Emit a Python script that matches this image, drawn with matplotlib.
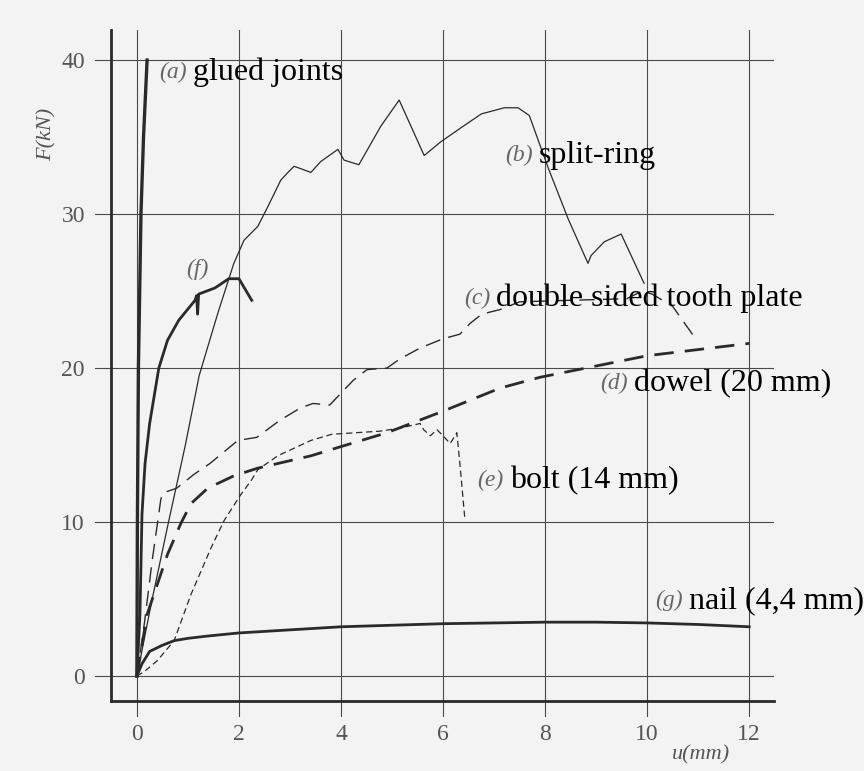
import matplotlib.pyplot as plt

# (a) glued joints
u_a = [0, 0.01, 0.03, 0.08, 0.13, 0.2]
F_a = [0, 10, 20, 30, 35, 40]

# (b) split-ring
u_b = [0, 0.3, 0.62, 0.95, 1.22, 1.4, 1.59, 1.9, 2.1, 2.37, 2.57, 2.82, 2.96, 3.08,
       3.25, 3.41, 3.6, 3.94, 4.06, 4.35, 4.78, 5.14, 5.63, 5.96, 6.35, 6.75, 7.2,
       7.47, 7.69, 8.06, 8.45, 8.84, 8.9, 9.16, 9.49, 9.94]
F_b = [0, 5, 10, 15, 19.5, 21.5, 23.6, 26.8, 28.3, 29.2, 30.5, 32.2, 32.7, 33.1,
       32.9, 32.7, 33.4, 34.2, 33.5, 33.2, 35.7, 37.4, 33.8, 34.7, 35.6, 36.5, 36.9,
       36.9, 36.4, 33.0, 29.7, 26.8, 27.3, 28.2, 28.7, 25.5]

# (c) double sided tooth plate
u_c = [0, 0.15, 0.3, 0.47, 0.52, 0.78, 1.12, 1.43, 1.98, 2.35, 2.8, 3.2, 3.45, 3.78,
       3.98, 4.24, 4.51, 4.9, 5.16, 5.55, 6.0, 6.33, 6.53, 6.76, 7.12, 7.5, 8.5, 9.6,
       9.9, 10.1, 10.5, 10.95]
F_c = [0, 3.5, 7.5, 11.5, 11.9, 12.2, 13.1, 13.8, 15.3, 15.5, 16.6, 17.4, 17.7, 17.6,
       18.3, 19.2, 19.9, 20.0, 20.6, 21.3, 21.9, 22.2, 22.9, 23.5, 23.8, 24.3, 24.4, 24.5,
       25.0, 24.8, 24.0, 21.9]

# (d) dowel (20 mm)
u_d = [0, 0.2, 0.6, 0.86, 1.06, 1.39, 1.9, 2.37, 3.41, 4.0, 4.9, 6.0, 7.12, 7.9, 10.0, 12.0]
F_d = [0, 4.0, 7.9, 9.9, 11.2, 12.2, 13.0, 13.5, 14.3, 14.9, 15.8, 17.2, 18.7, 19.4, 20.8, 21.6]

# (e) bolt (14 mm)
u_e = [0, 0.15, 0.4, 0.73, 1.06, 1.45, 1.71, 2.04, 2.24, 2.37, 2.76, 3.41, 3.82, 4.76,
       5.16, 5.55, 5.62, 5.75, 5.88, 6.0, 6.14, 6.27, 6.33, 6.43]
F_e = [0, 0.3, 1.0, 2.3, 5.3, 8.3, 10.1, 11.8, 12.7, 13.4, 14.3, 15.3, 15.7, 15.9,
       16.1, 16.4, 16.0, 15.6, 16.0, 15.6, 15.1, 15.8, 13.8, 10.1]

# (f)
u_f = [0, 0.03, 0.06, 0.1, 0.16, 0.25, 0.39, 0.43, 0.6, 0.82, 1.14, 1.17, 1.19, 1.21,
       1.53, 1.8, 2.0, 2.25]
F_f = [0, 2, 4.0, 10.5, 13.8, 16.4, 19.2, 20.0, 21.8, 23.1, 24.4, 24.7, 23.5, 24.8,
       25.2, 25.8, 25.8, 24.4]

# (g) nail (4,4 mm)
u_g = [0, 0.1, 0.25, 0.5, 0.73, 1.0, 1.39, 2.0, 3.0, 4.0, 5.0, 6.0, 7.0, 8.0, 9.0,
       10.0, 11.0, 12.0]
F_g = [0, 0.8, 1.6, 2.0, 2.3, 2.45, 2.6, 2.8, 3.0, 3.2, 3.3, 3.4, 3.45, 3.5, 3.5,
       3.45, 3.35, 3.2]

x_ticks = [0, 2, 4, 6, 8, 10, 12]
y_ticks = [0, 10, 20, 30, 40]

serif = 'Liberation Serif'
plt.rcParams['font.family'] = [serif, 'DejaVu Serif']
ink = '#2a2a2a'
grey = '#555555'

fig = plt.figure(figsize=(8.64, 7.71), dpi=100, facecolor='#f3f3f3')
ax = fig.add_axes([0.110, 0.070, 0.7855, 0.8911])
ax.set_facecolor('none')

ax.plot(u_a, F_a, color=ink, lw=2.4)
ax.plot(u_b, F_b, color=ink, lw=0.9)
ax.plot(u_c, F_c, color=ink, lw=1.0, dashes=(11, 6))
ax.plot(u_d, F_d, color=ink, lw=2.0, dashes=(7, 4))
ax.plot(u_e, F_e, color=ink, lw=0.9, dashes=(5, 3))
ax.plot(u_f, F_f, color=ink, lw=2.0)
ax.plot(u_g, F_g, color=ink, lw=2.0)

ax.set_xlim(-0.82, 12.48)
ax.set_ylim(-2.66, 41.95)
ax.set_xticks(x_ticks)
ax.set_yticks(y_ticks)
ax.grid(True, color='#4a4a4a', lw=0.8)
ax.set_axisbelow(True)
ax.tick_params(length=0, labelsize=17, labelcolor=grey)
ax.tick_params(axis='y', pad=19)
ax.tick_params(axis='x', pad=17)

for s in ['top', 'right']:
    ax.spines[s].set_visible(False)
ax.spines['left'].set_position(('data', -0.5))
ax.spines['left'].set_bounds(-1.6, 41.95)
ax.spines['bottom'].set_position(('data', -1.6))
ax.spines['bottom'].set_bounds(-0.5, 12.48)
for s in ['left', 'bottom']:
    ax.spines[s].set_linewidth(2.0)
    ax.spines[s].set_color(ink)

fig.text(0.054, 0.825, 'F(kN)', rotation=90, ha='center', va='center',
         style='italic', fontsize=16, color=grey)
fig.text(0.811, 0.021, 'u(mm)', ha='center', va='center',
         style='italic', fontsize=16, color=grey)

labels = [('(a)', 'glued joints', 1.10, 39.2),
          ('(b)', 'split-ring', 7.88, 33.8),
          ('(c)', 'double sided tooth plate', 7.04, 24.5),
          ('(d)', 'dowel (20 mm)', 9.75, 19.0),
          ('(e)', 'bolt (14 mm)', 7.31, 12.7),
          ('(g)', 'nail (4,4 mm)', 10.82, 4.9)]
for tag, name, x, y in labels:
    ax.text(x, y, name, ha='left', va='center', fontsize=23,
            color='black', clip_on=False)
    ax.text(x - 0.12, y, tag, ha='right', va='center',
            style='italic', fontsize=17, color='#666666', clip_on=False)
ax.text(1.18, 26.4, '(f)', ha='center', va='center',
        style='italic', fontsize=17, color='#666666')

fig.savefig('out.png', dpi=100, facecolor=fig.get_facecolor())
